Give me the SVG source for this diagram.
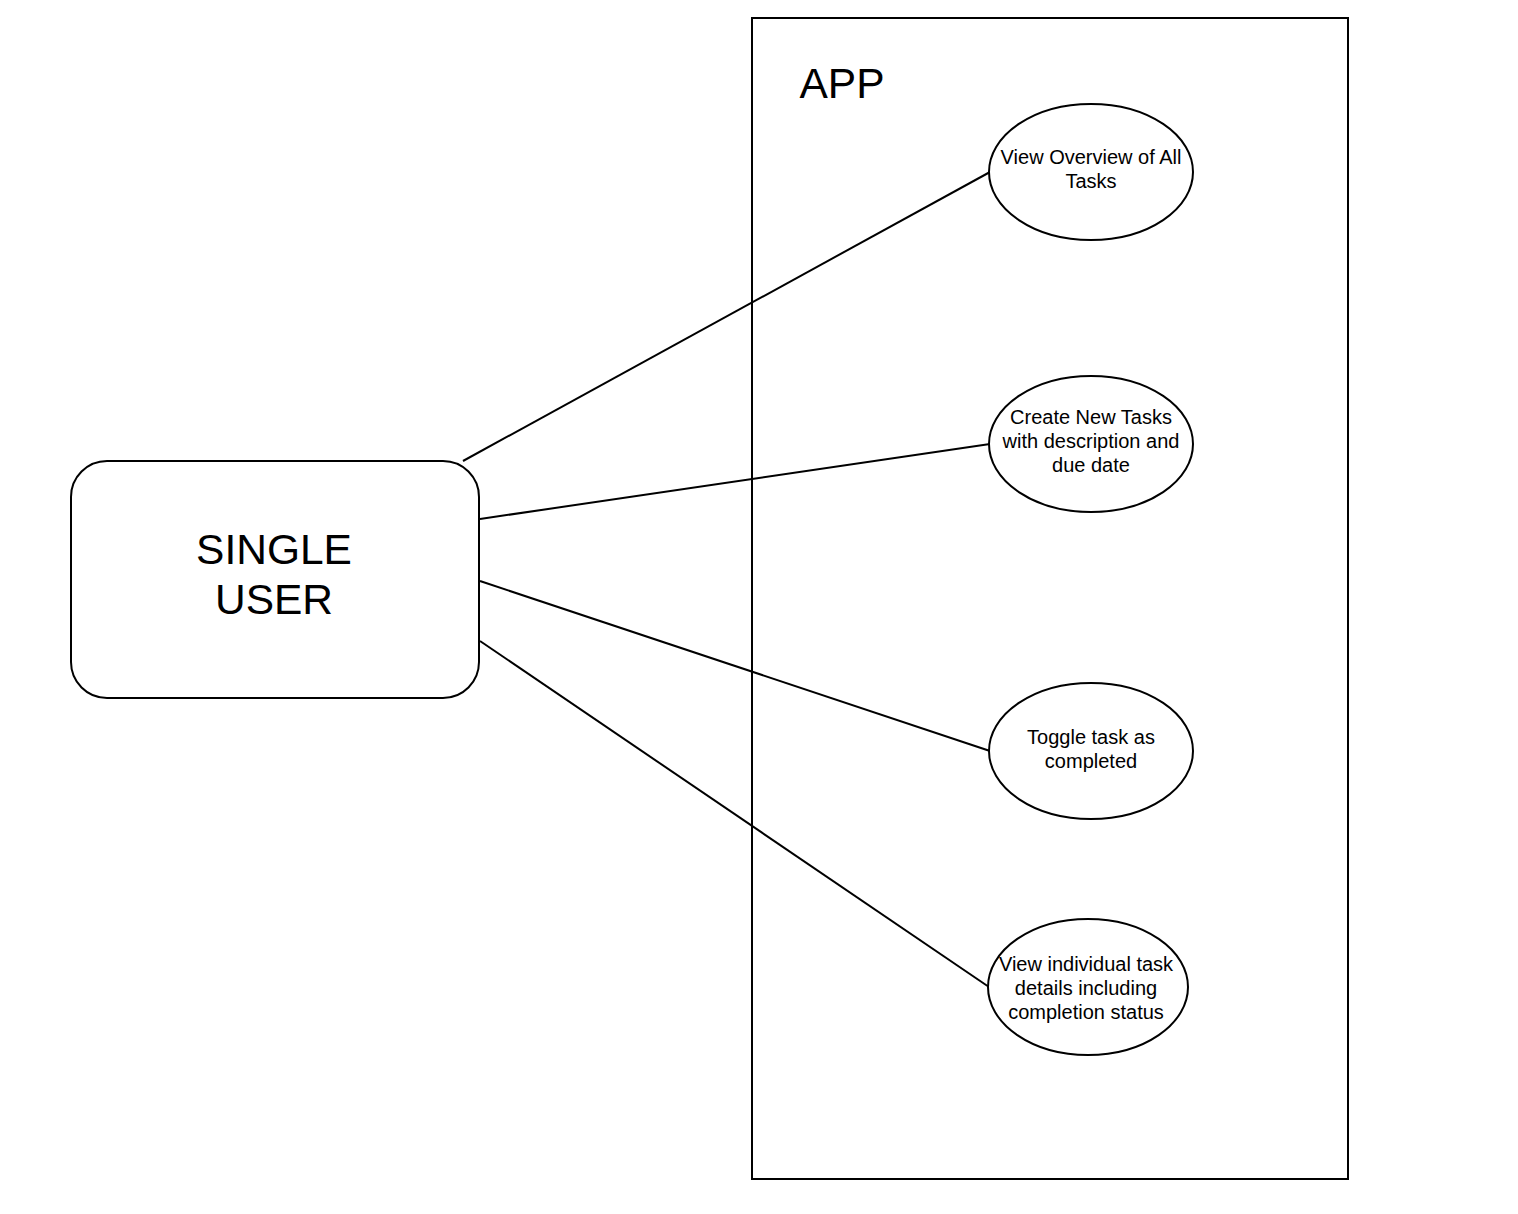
<svg xmlns="http://www.w3.org/2000/svg" width="1518" height="1214" viewBox="0 0 1518 1214">
<style>
.s{fill:#fff;stroke:#000;stroke-width:2}
.c{stroke:#000;stroke-width:2;fill:none}
.t{font-family:"Liberation Sans",Arial,sans-serif;fill:#000;text-anchor:middle}
.sm{font-size:20px}
.lg{font-size:42.5px}
</style>
<rect width="1518" height="1214" fill="#fff"/>
<g id="app">
<rect class="s" x="752" y="18" width="596" height="1161"/>
<text class="t lg" x="842" y="98">APP</text>
</g>
<g id="user">
<rect class="s" x="71" y="461" width="408" height="237" rx="36" ry="36"/>
<text class="t lg" x="274" y="564">SINGLE</text>
<text class="t lg" x="274" y="614">USER</text>
</g>
<g id="connectors">
<line class="c" x1="463" y1="461" x2="990" y2="172"/>
<line class="c" x1="480" y1="519" x2="990" y2="444"/>
<line class="c" x1="480" y1="581" x2="990" y2="751"/>
<line class="c" x1="480" y1="641" x2="989" y2="987"/>
</g>
<g id="uc1">
<ellipse class="s" cx="1091" cy="172" rx="102" ry="68"/>
<text class="t sm" x="1091" y="164">View Overview of All</text>
<text class="t sm" x="1091" y="188">Tasks</text>
</g>
<g id="uc2">
<ellipse class="s" cx="1091" cy="444" rx="102" ry="68"/>
<text class="t sm" x="1091" y="424">Create New Tasks</text>
<text class="t sm" x="1091" y="448">with description and</text>
<text class="t sm" x="1091" y="472">due date</text>
</g>
<g id="uc3">
<ellipse class="s" cx="1091" cy="751" rx="102" ry="68"/>
<text class="t sm" x="1091" y="744">Toggle task as</text>
<text class="t sm" x="1091" y="768">completed</text>
</g>
<g id="uc4">
<ellipse class="s" cx="1088" cy="987" rx="100" ry="68"/>
<text class="t sm" x="1086" y="971">View individual task</text>
<text class="t sm" x="1086" y="995">details including</text>
<text class="t sm" x="1086" y="1019">completion status</text>
</g>
</svg>
